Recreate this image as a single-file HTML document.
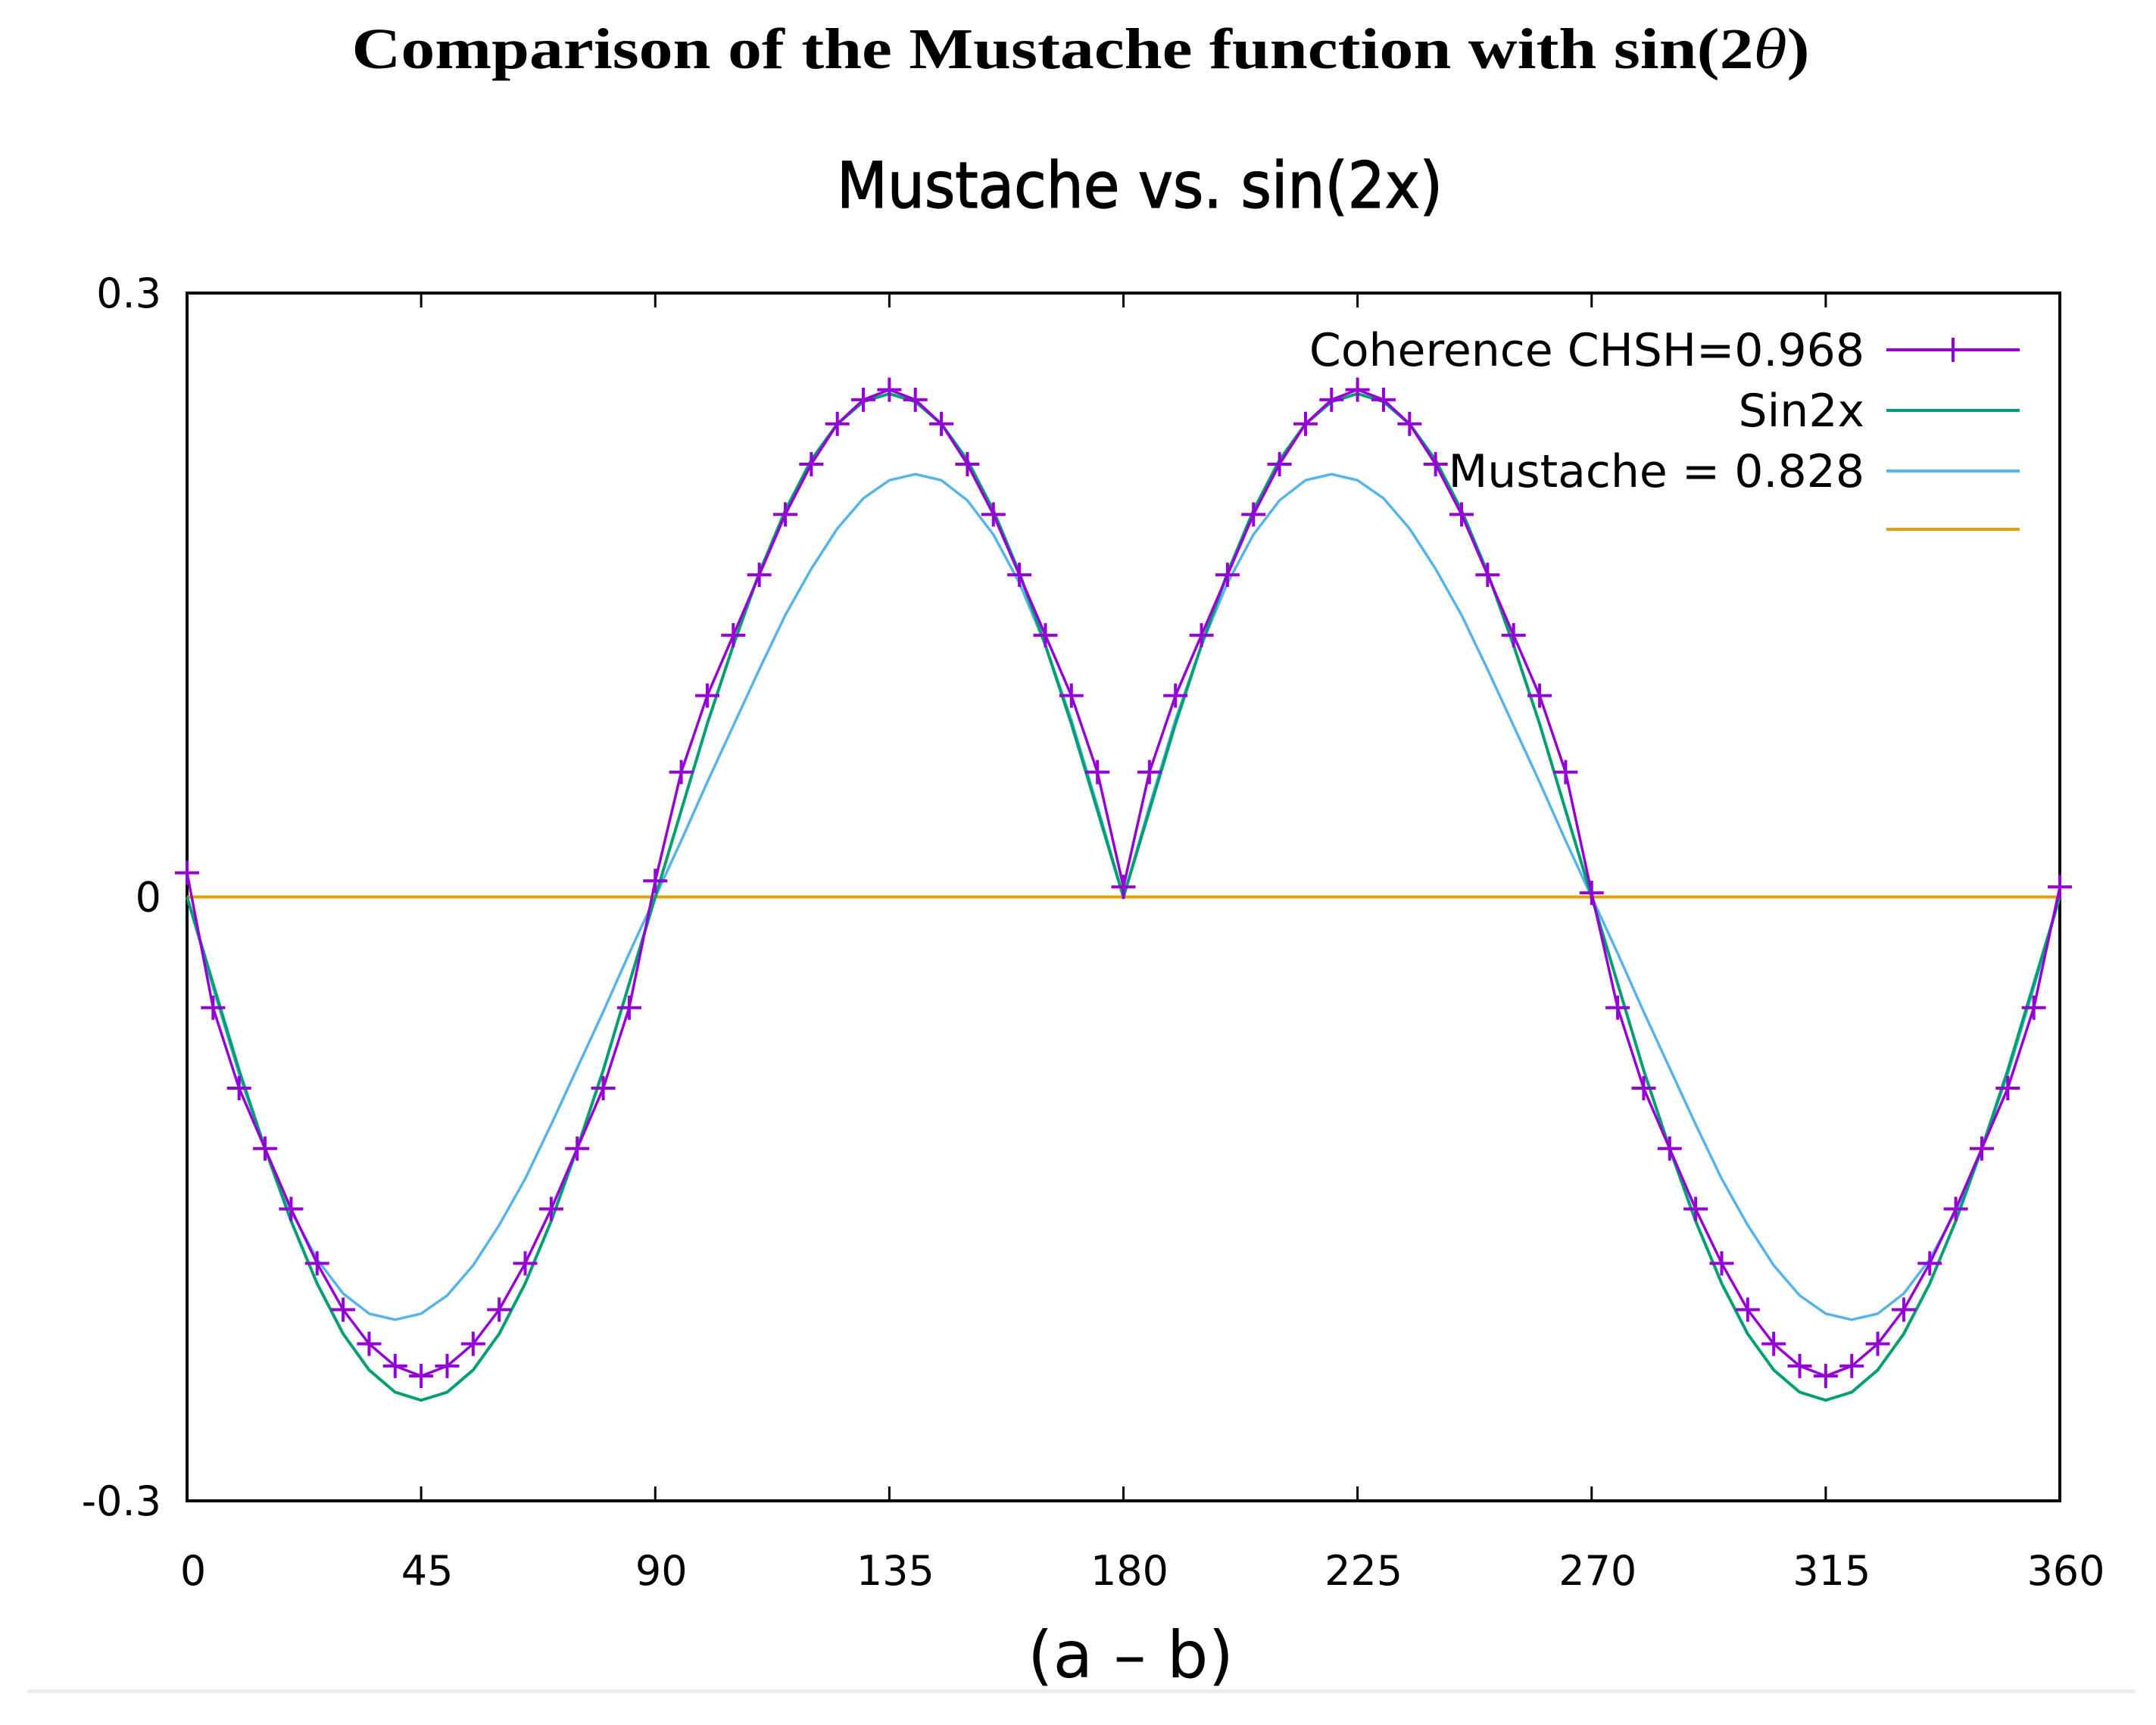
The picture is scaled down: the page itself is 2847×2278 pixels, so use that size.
<!DOCTYPE html>
<html><head><meta charset="utf-8"><style>
html,body{margin:0;padding:0;background:#fff;}
svg{display:block;}
</style></head><body>
<svg id="chart" width="2847" height="2278" viewBox="0 0 2847 2278" xmlns="http://www.w3.org/2000/svg">
<rect width="2847" height="2278" fill="#fff"/>
<text x="1427" y="90" text-anchor="middle" font-family="Liberation Serif, serif" font-weight="bold" font-size="76" textLength="1925" lengthAdjust="spacingAndGlyphs">Comparison of the Mustache function with sin(2<tspan font-style="italic" font-weight="normal">θ</tspan>)</text>
<text x="1505" y="274" text-anchor="middle" font-family="DejaVu Sans, Liberation Sans, sans-serif" font-size="84" stroke="#000" stroke-width="1.5" textLength="800" lengthAdjust="spacingAndGlyphs">Mustache vs. sin(2x)</text>
<g id="axes"></g>
<g id="series"></g>
<g id="legend"></g>
<text x="1493" y="2215" text-anchor="middle" font-family="DejaVu Sans, Liberation Sans, sans-serif" font-size="86">(a – b)</text>
<rect x="36" y="2231" width="2784" height="5" fill="#ececec"/>
</svg>
<script>
const xTicks = [0,45,90,135,180,225,270,315,360];
const yTicks = [-0.3,0,0.3];
const yTickLabels = ["-0.3","0","0.3"];
const angles = [0,5,10,15,20,25,30,35,40,45,50,55,60,65,70,75,80,85,90,95,100,105,110,115,120,125,130,135,140,145,150,155,160,165,170,175,180,185,190,195,200,205,210,215,220,225,230,235,240,245,250,255,260,265,270,275,280,285,290,295,300,305,310,315,320,325,330,335,340,345,350,355,360];
const coherence = [0.012,-0.055,-0.095,-0.125,-0.155,-0.182,-0.205,-0.222,-0.233,-0.238,-0.233,-0.222,-0.205,-0.182,-0.155,-0.125,-0.095,-0.055,0.008,0.062,0.100,0.130,0.160,0.190,0.215,0.235,0.247,0.252,0.247,0.235,0.215,0.190,0.160,0.130,0.100,0.062,0.005,0.062,0.100,0.130,0.160,0.190,0.215,0.235,0.247,0.252,0.247,0.235,0.215,0.190,0.160,0.130,0.100,0.062,0.002,-0.055,-0.095,-0.125,-0.155,-0.182,-0.205,-0.222,-0.233,-0.238,-0.233,-0.222,-0.205,-0.182,-0.155,-0.125,-0.095,-0.055,0.005];
const sin2x = [0,-0.043,-0.086,-0.125,-0.161,-0.192,-0.217,-0.235,-0.246,-0.25,-0.246,-0.235,-0.217,-0.192,-0.161,-0.125,-0.086,-0.043,0,0.043,0.086,0.125,0.161,0.192,0.217,0.235,0.246,0.25,0.246,0.235,0.217,0.192,0.161,0.125,0.086,0.043,0,0.043,0.086,0.125,0.161,0.192,0.217,0.235,0.246,0.25,0.246,0.235,0.217,0.192,0.161,0.125,0.086,0.043,0,-0.043,-0.086,-0.125,-0.161,-0.192,-0.217,-0.235,-0.246,-0.25,-0.246,-0.235,-0.217,-0.192,-0.161,-0.125,-0.086,-0.043,0];
const mustache = [0,-0.045,-0.088,-0.125,-0.156,-0.18,-0.197,-0.207,-0.21,-0.207,-0.198,-0.183,-0.163,-0.14,-0.113,-0.085,-0.057,-0.028,0,0.028,0.057,0.085,0.113,0.14,0.163,0.183,0.198,0.207,0.21,0.207,0.197,0.18,0.156,0.125,0.088,0.045,0,0.045,0.088,0.125,0.156,0.18,0.197,0.207,0.21,0.207,0.198,0.183,0.163,0.14,0.113,0.085,0.057,0.028,0,-0.028,-0.057,-0.085,-0.113,-0.14,-0.163,-0.183,-0.198,-0.207,-0.21,-0.207,-0.197,-0.18,-0.156,-0.125,-0.088,-0.045,0];
const zeroX = [0,360];
const zeroY = [0,0];
const legendLabels = ["Coherence CHSH=0.968","Sin2x","Mustache = 0.828",""];

const NS="http://www.w3.org/2000/svg";
const L=247,R=2720,T=387,B=1982;
const sx=v=>L+(v-0)/(360-0)*(R-L);
const sy=v=>B-(v+0.3)/0.6*(B-T);
function mk(tag,attrs,parent){const e=document.createElementNS(NS,tag);for(const k in attrs)e.setAttribute(k,attrs[k]);parent.appendChild(e);return e;}
const axes=document.getElementById('axes'),series=document.getElementById('series'),legend=document.getElementById('legend');

xTicks.forEach(v=>{
  const x=sx(v);
  const t1=mk('line',{x1:x,y1:T,x2:x,y2:T+19,stroke:'#000','stroke-width':3},axes);
  
  
  const t2=mk('line',{x1:x,y1:B,x2:x,y2:B-19,stroke:'#000','stroke-width':3},axes);
  
  
  const lb=mk('text',{x:x+8,y:2093,'text-anchor':'middle','font-family':'DejaVu Sans, Liberation Sans, sans-serif','font-size':54},axes);
  lb.textContent=v;
  
  
});
yTicks.forEach((v,i)=>{
  const y=sy(v);
  const t1=mk('line',{x1:L,y1:y,x2:L+19,y2:y,stroke:'#000','stroke-width':3},axes);
  
  
  const t2=mk('line',{x1:R,y1:y,x2:R-19,y2:y,stroke:'#000','stroke-width':3},axes);
  
  
  const lb=mk('text',{x:213,y:y+19,'text-anchor':'end','font-family':'DejaVu Sans, Liberation Sans, sans-serif','font-size':54},axes);
  lb.textContent=yTickLabels[i];
  
  
});
const frame=mk('rect',{x:L,y:T,width:R-L,height:B-T,fill:'none',stroke:'#000','stroke-width':4},axes);



function pts(xs,ys){return xs.map((a,i)=>sx(a).toFixed(1)+','+sy(ys[i]).toFixed(1)).join(' ');}
const zl=mk('polyline',{points:pts(zeroX,zeroY),fill:'none',stroke:'#e69f00','stroke-width':4},series);


const ml=mk('polyline',{points:pts(angles,mustache),fill:'none',stroke:'#56b4e9','stroke-width':3.5,'stroke-linejoin':'round'},series);


const gl=mk('polyline',{points:pts(angles,sin2x),fill:'none',stroke:'#009e73','stroke-width':4,'stroke-linejoin':'round'},series);


const pl=mk('polyline',{points:pts(angles,coherence),fill:'none',stroke:'#9400d3','stroke-width':3.5,'stroke-linejoin':'round'},series);


angles.forEach((a,i)=>{
  const x=sx(a),y=sy(coherence[i]);
  const p=mk('path',{d:`M${x-16},${y}H${x+16}M${x},${y-16}V${y+16}`,stroke:'#9400d3','stroke-width':4},series);
  
  
});

const legColors=['#9400d3','#009e73','#56b4e9','#e69f00'];
const legY=[462,542,622,699];
legendLabels.forEach((lab,i)=>{
  const t=mk('text',{x:2462,y:legY[i]+21,'text-anchor':'end','font-family':'DejaVu Sans, Liberation Sans, sans-serif','font-size':60},legend);
  t.textContent=lab;
  
  
  const ln=mk('line',{x1:2491,y1:legY[i],x2:2667,y2:legY[i],stroke:legColors[i],'stroke-width':4},legend);
  
  
  if(i===0){
    const m=mk('path',{d:`M2579,${legY[i]-16}V${legY[i]+16}`,stroke:legColors[i],'stroke-width':4},legend);
    
    
  }
});
</script>
</body></html>
